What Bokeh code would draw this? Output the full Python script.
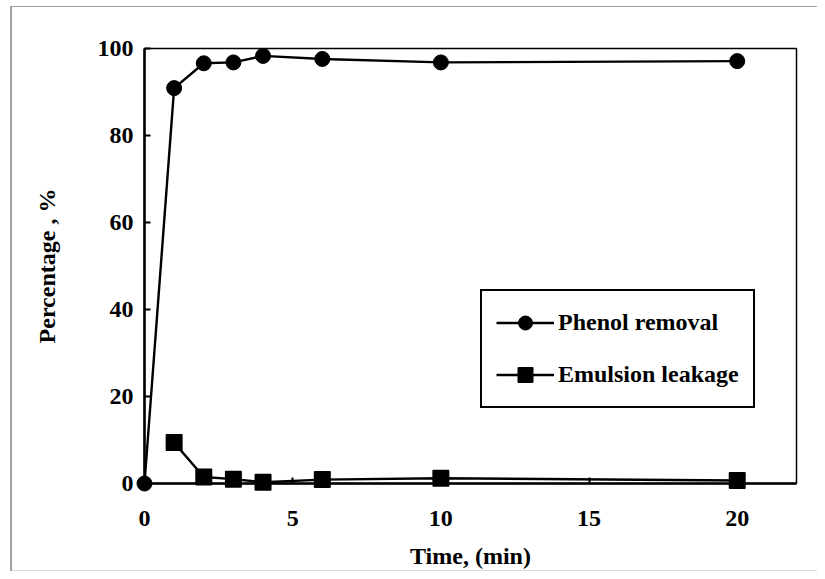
from bokeh.plotting import figure
from bokeh.models import Range1d, FixedTicker, Legend, LegendItem
from bokeh.embed import file_html
from bokeh.resources import INLINE

# ---- data ----
time = [0, 1, 2, 3, 4, 6, 10, 20]
phenol_removal = [0, 90.9, 96.6, 96.8, 98.3, 97.6, 96.8, 97.1]
time_emulsion = [1, 2, 3, 4, 6, 10, 20]
emulsion_leakage = [9.4, 1.5, 1.0, 0.3, 0.9, 1.2, 0.7]
x_ticks = [0, 5, 10, 15, 20]
y_ticks = [0, 20, 40, 60, 80, 100]
series_names = ["Phenol removal", "Emulsion leakage"]
x_title = "Time, (min)"
y_title = "Percentage , %"

FONT = "Liberation Serif"
FS = "24px"

p = figure(width=817, height=571, output_backend="svg", toolbar_location=None,
           x_range=Range1d(0, 22), y_range=Range1d(0, 100),
           min_border_left=144, min_border_right=21, min_border_top=48, min_border_bottom=87)
p.border_fill_color = None
p.background_fill_color = "white"
p.outline_line_color = "black"
p.outline_line_width = 1.5
p.grid.visible = False
p.styles = {"box-shadow": "inset 10px 6px 0 0 white, inset 12px 7px 0 0 #a0a0a0, "
                          "inset 0 -1px 0 0 #dcdcdc"}

for ax in (p.xaxis[0], p.yaxis[0]):
    ax.axis_line_width = 2.5
    ax.axis_line_color = "black"
    ax.major_tick_in = 6
    ax.major_tick_out = 0
    ax.major_tick_line_width = 2
    ax.major_tick_line_color = "black"
    ax.minor_tick_line_color = None
    ax.major_label_text_font = FONT
    ax.major_label_text_font_size = FS
    ax.major_label_text_font_style = "bold"
    ax.major_label_text_color = "black"
    ax.axis_label_text_font = FONT
    ax.axis_label_text_font_size = FS
    ax.axis_label_text_font_style = "bold"
    ax.axis_label_text_color = "black"

p.xaxis.ticker = FixedTicker(ticks=x_ticks)
p.yaxis.ticker = FixedTicker(ticks=y_ticks)
p.xaxis.axis_label = x_title
p.yaxis.axis_label = y_title
p.xaxis.major_label_standoff = 27
p.xaxis.axis_label_standoff = 14
p.yaxis.major_label_standoff = 11
p.yaxis.axis_label_standoff = 35

l1 = p.line(time, phenol_removal, line_color="black", line_width=2.4, level="annotation")
m1 = p.scatter(time, phenol_removal, marker="circle", size=15, fill_color="black",
               line_color="black", level="annotation")
l2 = p.line(time_emulsion, emulsion_leakage, line_color="black", line_width=2.4, level="annotation")
m2 = p.scatter(time_emulsion, emulsion_leakage, marker="square", size=15, fill_color="black",
               line_color="black", line_width=2, line_join="round", level="annotation")

legend = Legend(items=[LegendItem(label=series_names[0], renderers=[l1, m1]),
                       LegendItem(label=series_names[1], renderers=[l2, m2])],
                location=(336, 75))
legend.label_text_font = FONT
legend.label_text_font_size = FS
legend.label_text_font_style = "bold"
legend.label_text_color = "black"
legend.glyph_height = 35
legend.glyph_width = 58
legend.label_height = 35
legend.label_standoff = 4
legend.padding = 14
legend.spacing = 17
legend.label_width = 180
legend.border_line_color = "black"
legend.border_line_alpha = 1
legend.border_line_width = 2
legend.background_fill_color = "white"
legend.background_fill_alpha = 1
p.add_layout(legend, "center")

open("out.html", "w").write(file_html(p, INLINE))
